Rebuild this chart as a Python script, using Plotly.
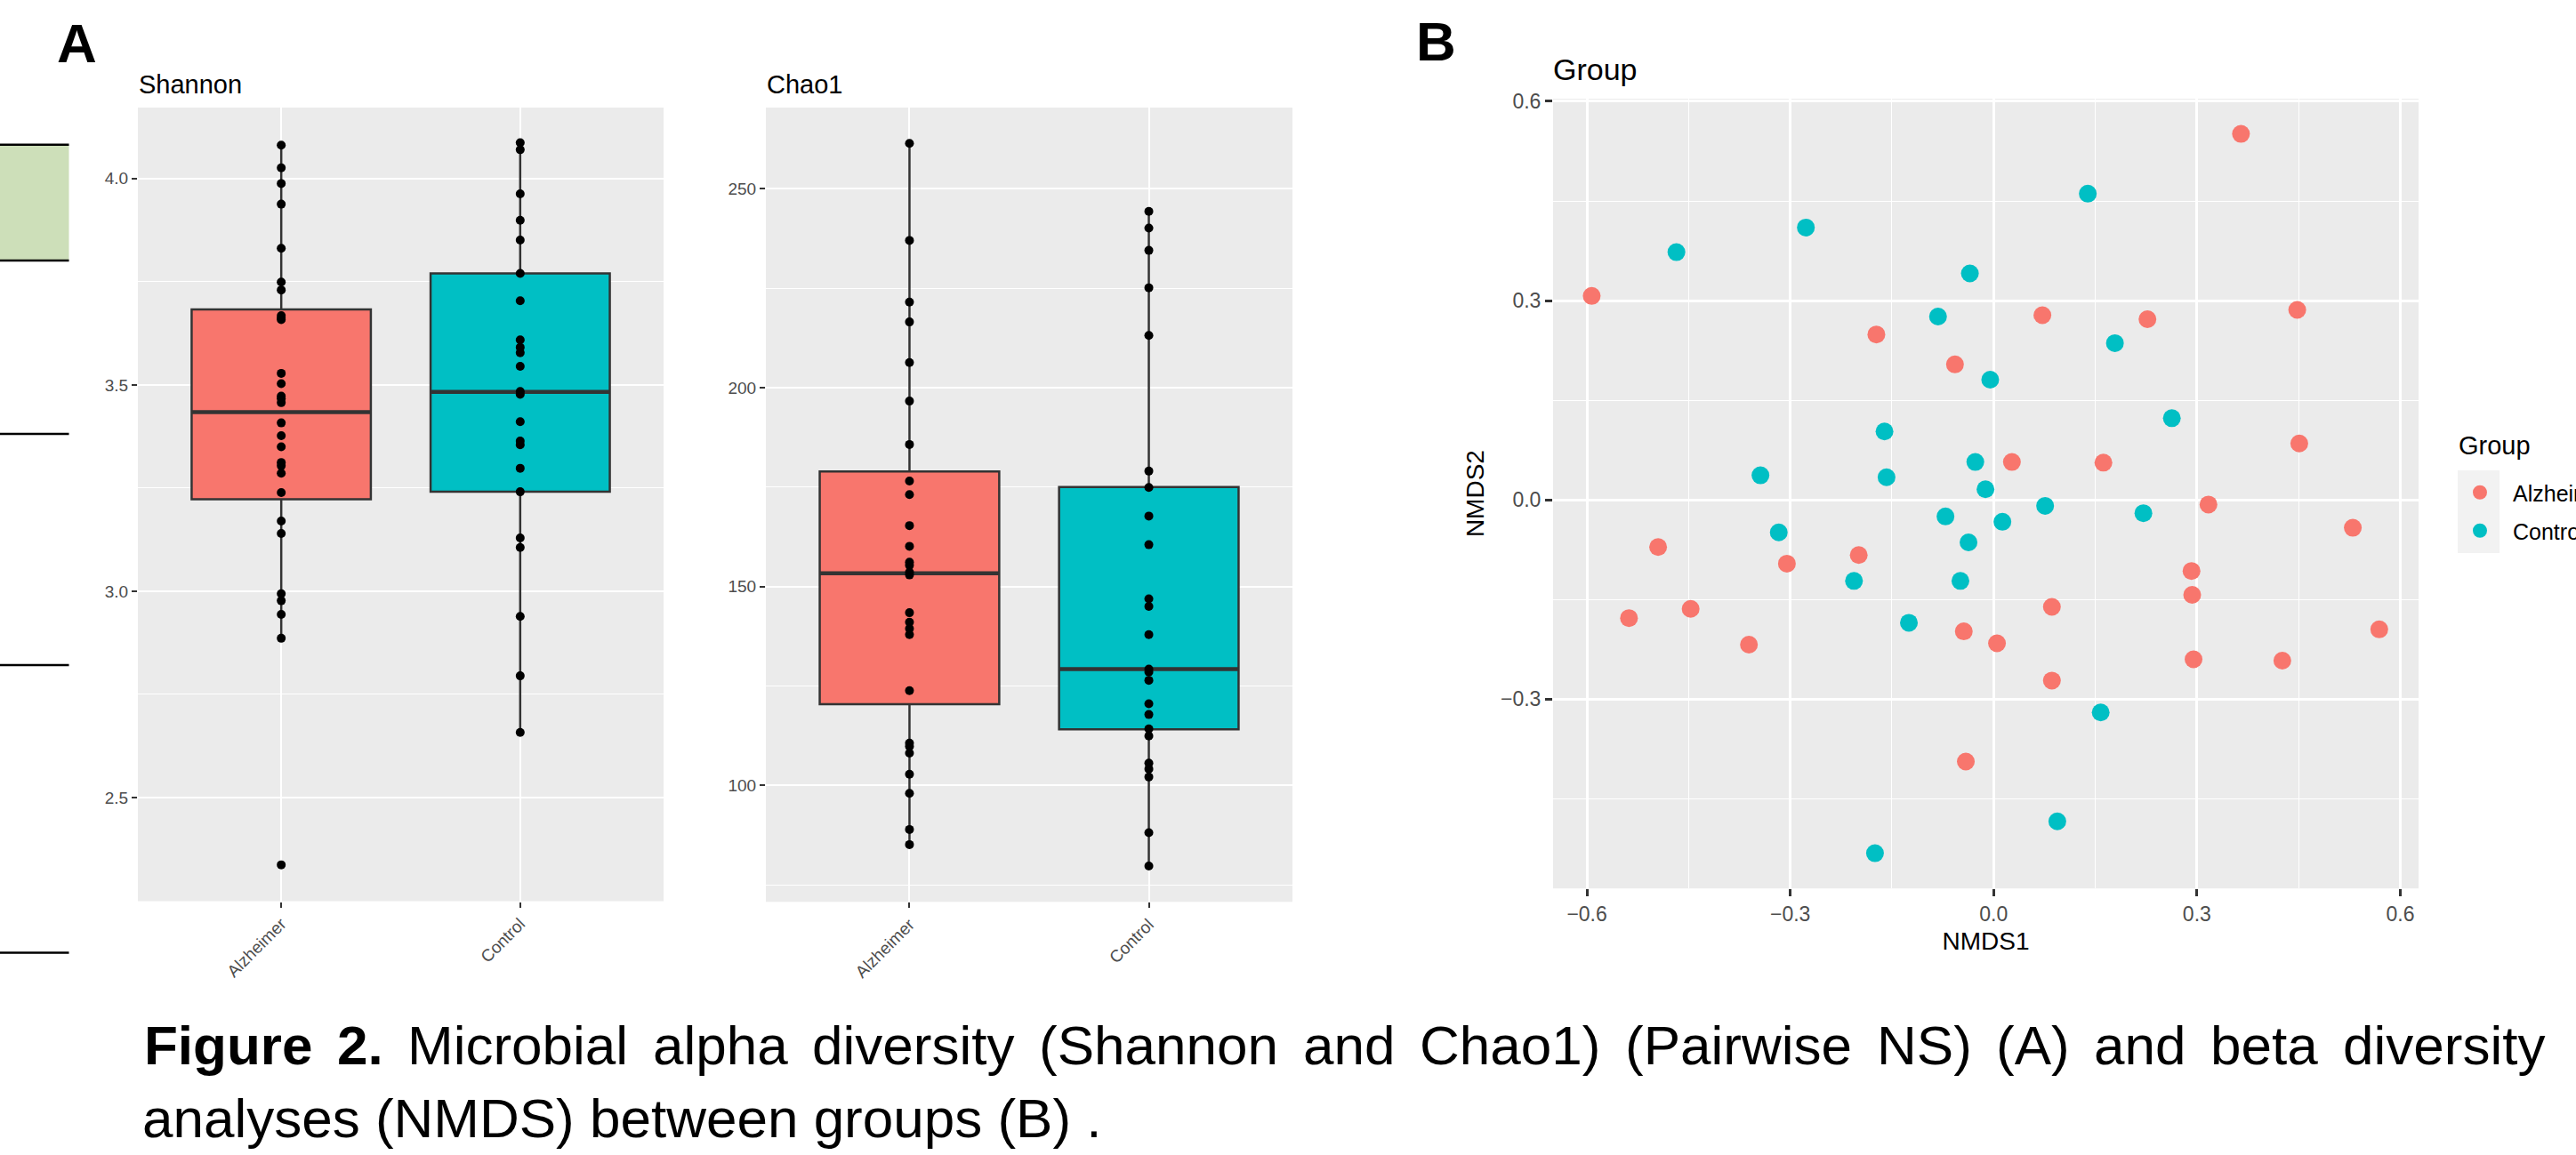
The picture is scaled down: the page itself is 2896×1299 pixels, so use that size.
import plotly.graph_objects as go

W, H = 2896, 1299

groups = ["Alzheimer", "Control"]
group_colors = ["#F8766D", "#00BFC4"]

# ---- Shannon (panel A, left) ----
shannon_alz = [4.081, 4.026, 3.988, 3.938, 3.831, 3.749, 3.730, 3.668, 3.662, 3.658,
               3.528, 3.503, 3.473, 3.467, 3.457, 3.408, 3.377, 3.350, 3.312, 3.304,
               3.286, 3.239, 3.170, 3.140, 2.994, 2.977, 2.944, 2.886, 2.337]
shannon_ctl = [4.087, 4.070, 3.963, 3.899, 3.851, 3.770, 3.704, 3.609, 3.591, 3.578,
               3.545, 3.484, 3.477, 3.411, 3.364, 3.355, 3.298, 3.241, 3.129, 3.106,
               2.939, 2.795, 2.658]
shannon_q1 = [3.223, 3.241]
shannon_med = [3.434, 3.483]
shannon_q3 = [3.683, 3.770]
shannon_lo = [2.886, 2.658]
shannon_hi = [4.081, 4.087]

# ---- Chao1 (panel A, right) ----
chao1_alz = [261.4, 237.0, 221.5, 216.5, 206.3, 196.6, 185.7, 176.5, 173.1, 165.3,
             160.1, 156.1, 155.3, 153.6, 152.9, 143.4, 141.0, 139.4, 137.9, 123.8,
             110.6, 109.8, 108.1, 102.8, 98.0, 88.9, 85.1]
chao1_ctl = [244.3, 240.1, 234.5, 225.1, 213.1, 179.0, 174.9, 167.7, 160.5, 146.9,
             145.0, 137.9, 129.2, 128.5, 126.4, 120.5, 117.8, 114.2, 112.4, 105.6,
             104.1, 102.1, 88.1, 79.7]
chao1_q1 = [120.4, 114.1]
chao1_med = [153.3, 129.2]
chao1_q3 = [178.9, 175.0]
chao1_lo = [85.1, 79.7]
chao1_hi = [261.4, 244.3]

# ---- NMDS (panel B) ----
nmds_alz_x = [-0.593, -0.173, -0.057, 0.072, 0.227, 0.365, 0.448, 0.027, 0.162, 0.451,
              0.317, 0.530, -0.495, -0.199, -0.305, -0.538, -0.447, -0.361, -0.044, 0.005,
              0.086, 0.086, 0.292, 0.293, 0.295, 0.426, 0.569, -0.041]
nmds_alz_y = [0.307, 0.249, 0.204, 0.278, 0.272, 0.551, 0.286, 0.057, 0.056, 0.085,
              -0.007, -0.042, -0.071, -0.083, -0.096, -0.178, -0.164, -0.218, -0.198, -0.216,
              -0.161, -0.272, -0.107, -0.143, -0.240, -0.242, -0.195, -0.394]
nmds_ctl_x = [-0.468, -0.277, 0.139, -0.035, -0.082, -0.005, 0.179, -0.161, 0.263, -0.344,
              -0.158, -0.027, -0.012, 0.076, 0.221, -0.317, -0.071, 0.013, -0.037, -0.206,
              -0.049, -0.125, 0.158, 0.094, -0.175]
nmds_ctl_y = [0.373, 0.410, 0.461, 0.341, 0.276, 0.181, 0.236, 0.103, 0.123, 0.037,
              0.034, 0.057, 0.016, -0.009, -0.020, -0.049, -0.025, -0.033, -0.064, -0.122,
              -0.122, -0.185, -0.320, -0.484, -0.532]

caption_bold_words = ["Figure", "2."]
caption_line1_words = ["Microbial", "alpha", "diversity", "(Shannon", "and", "Chao1)",
                       "(Pairwise", "NS)", "(A)", "and", "beta", "diversity"]
caption_line2 = "analyses (NMDS) between groups (B) ."


def px(x):
    return x / W


def py(y):
    return 1 - y / H


FONT = "Liberation Sans, Arial, Helvetica, sans-serif"
BOX_W = 0.75

fig = go.Figure()


def add_box_panel(xa, ya, q1, med, q3, lo, hi, pts):
    for i, g in enumerate(groups):
        fig.add_trace(go.Box(
            x=[i], q1=[q1[i]], median=[med[i]], q3=[q3[i]],
            lowerfence=[lo[i]], upperfence=[hi[i]],
            width=BOX_W, whiskerwidth=0, boxpoints=False,
            fillcolor=group_colors[i], line=dict(color="#333333", width=2.5),
            xaxis=xa, yaxis=ya, showlegend=False, hoverinfo="skip"))
        fig.add_trace(go.Scatter(
            x=[i - BOX_W / 2, i + BOX_W / 2], y=[med[i], med[i]], mode="lines",
            line=dict(color="#333333", width=4.5), xaxis=xa, yaxis=ya,
            showlegend=False, hoverinfo="skip"))
    for i, vals in enumerate(pts):
        fig.add_trace(go.Scatter(
            x=[i] * len(vals), y=vals, mode="markers",
            marker=dict(color="black", size=10, line=dict(width=0)),
            xaxis=xa, yaxis=ya, showlegend=False, hoverinfo="skip"))


add_box_panel("x", "y", shannon_q1, shannon_med, shannon_q3, shannon_lo, shannon_hi,
              [shannon_alz, shannon_ctl])
add_box_panel("x2", "y2", chao1_q1, chao1_med, chao1_q3, chao1_lo, chao1_hi,
              [chao1_alz, chao1_ctl])

for name, xs, ys, col in [("Alzheimer", nmds_alz_x, nmds_alz_y, group_colors[0]),
                          ("Control", nmds_ctl_x, nmds_ctl_y, group_colors[1])]:
    fig.add_trace(go.Scatter(
        x=xs, y=ys, mode="markers", name=name, legendgroup=name,
        marker=dict(color=col, size=20, line=dict(width=0)),
        xaxis="x3", yaxis="y3", showlegend=True))

tickfont_a = dict(family=FONT, size=19, color="#4D4D4D")
tickfont_b = dict(family=FONT, size=23, color="#4D4D4D")

cat_x = dict(range=[-0.6, 1.6], tickvals=[0, 1], ticktext=groups, tickangle=-45,
             showgrid=True, gridcolor="white", gridwidth=2.3, zeroline=False,
             ticks="outside", ticklen=6, tickwidth=2, tickcolor="#333333",
             tickfont=tickfont_a, showline=False)

fig.update_layout(
    width=W, height=H, margin=dict(l=0, r=0, t=0, b=0, autoexpand=False),
    paper_bgcolor="white", plot_bgcolor="#EBEBEB",
    font=dict(family=FONT),
    xaxis=dict(domain=[px(155), px(746)], anchor="y", **cat_x),
    yaxis=dict(domain=[py(1013.5), py(121)], anchor="x", range=[2.249, 4.172],
               tick0=0, dtick=0.5, tickformat=".1f",
               showgrid=True, gridcolor="white", gridwidth=2.3, zeroline=False,
               minor=dict(dtick=0.25, tick0=0, showgrid=True, gridcolor="white", gridwidth=1.1),
               ticks="outside", ticklen=6, tickwidth=2, tickcolor="#333333",
               tickfont=tickfont_a),
    xaxis2=dict(domain=[px(861), px(1453)], anchor="y2", **cat_x),
    yaxis2=dict(domain=[py(1014.3), py(121)], anchor="x2", range=[70.7, 270.4],
                tick0=0, dtick=50,
                showgrid=True, gridcolor="white", gridwidth=2.3, zeroline=False,
                minor=dict(dtick=25, tick0=0, showgrid=True, gridcolor="white", gridwidth=1.1),
                ticks="outside", ticklen=6, tickwidth=2, tickcolor="#333333",
                tickfont=tickfont_a),
    xaxis3=dict(domain=[px(1746), px(2719)], anchor="y3", range=[-0.650, 0.627],
                tick0=0, dtick=0.3, tickformat=".1f",
                showgrid=True, gridcolor="white", gridwidth=2.6, zeroline=False,
                minor=dict(dtick=0.15, tick0=0, showgrid=True, gridcolor="white", gridwidth=1.3),
                ticks="outside", ticklen=8, tickwidth=2.5, tickcolor="#333333",
                tickfont=tickfont_b,
                title=dict(text="NMDS1", font=dict(family=FONT, size=28, color="black"), standoff=8)),
    yaxis3=dict(domain=[py(999.2), py(111)], anchor="x3", range=[-0.585, 0.604],
                tick0=0, dtick=0.3, tickformat=".1f",
                showgrid=True, gridcolor="white", gridwidth=2.6, zeroline=False,
                minor=dict(dtick=0.15, tick0=0, showgrid=True, gridcolor="white", gridwidth=1.3),
                ticks="outside", ticklen=8, tickwidth=2.5, tickcolor="#333333",
                tickfont=tickfont_b,
                title=dict(text="NMDS2", font=dict(family=FONT, size=28, color="black"), standoff=10)),
    legend=dict(x=px(2751), y=py(575.5), xanchor="left", yanchor="middle",
                bgcolor="rgba(0,0,0,0)", font=dict(family=FONT, size=25, color="black"),
                tracegroupgap=7.5, itemwidth=64),
    showlegend=True,
)

# decorative remnants of the neighbouring table at the left edge
fig.add_shape(type="rect", xref="paper", yref="paper", x0=0, x1=px(77.5),
              y0=py(293), y1=py(162.7), fillcolor="#CDDFB9", line=dict(width=0), layer="below")
for yy in [162.7, 293, 488, 748, 1071.5]:
    fig.add_shape(type="line", xref="paper", yref="paper", x0=0, x1=px(77.5),
                  y0=py(yy), y1=py(yy), line=dict(color="black", width=2.5))

# legend key background
fig.add_shape(type="rect", xref="paper", yref="paper", x0=px(2763), x1=px(2810),
              y0=py(622), y1=py(529), fillcolor="#F2F2F2", line=dict(width=0), layer="below")

ann = []
ann.append(dict(text="<b>A</b>", x=px(62), y=py(49), xanchor="left", yanchor="middle",
                font=dict(family=FONT, size=62, color="black")))
ann.append(dict(text="<b>B</b>", x=px(1590), y=py(46), xanchor="left", yanchor="middle",
                font=dict(family=FONT, size=62, color="black")))
ann.append(dict(text="Shannon", x=px(154), y=py(95), xanchor="left", yanchor="middle",
                font=dict(family=FONT, size=29, color="black")))
ann.append(dict(text="Chao1", x=px(860), y=py(95), xanchor="left", yanchor="middle",
                font=dict(family=FONT, size=29, color="black")))
ann.append(dict(text="Group", x=px(1744), y=py(78), xanchor="left", yanchor="middle",
                font=dict(family=FONT, size=34, color="black")))
ann.append(dict(text="Group", x=px(2762), y=py(501), xanchor="left", yanchor="middle",
                font=dict(family=FONT, size=29, color="black")))

# caption: first line justified across the page width (Arial advance widths, em)
ARIAL = {"M": .833, "i": .222, "c": .5, "r": .333, "o": .556, "b": .556, "a": .556,
         "l": .222, "p": .556, "h": .556, "d": .556, "v": .5, "e": .556, "s": .5,
         "t": .278, "y": .5, "(": .333, ")": .333, "S": .667, "n": .556, "C": .722,
         "1": .556, "P": .667, "w": .722, "N": .722, "A": .667}
ARIAL_B = {"F": .611, "i": .278, "g": .611, "u": .611, "r": .389, "e": .556,
           "2": .556, ".": .278}
CAP_SIZE = 62
LINE_X0, LINE_X1 = 160, 2859
words = [(w, True) for w in caption_bold_words] + [(w, False) for w in caption_line1_words]
widths = [sum((ARIAL_B if b else ARIAL)[c] for c in w) * CAP_SIZE for w, b in words]
gap = (LINE_X1 - LINE_X0 - sum(widths)) / (len(words) - 1)
xcur = LINE_X0
for (w, b), wd in zip(words, widths):
    ann.append(dict(text=f"<b>{w}</b>" if b else w, x=px(xcur), y=py(1175),
                    xanchor="left", yanchor="middle",
                    font=dict(family=FONT, size=CAP_SIZE, color="black")))
    xcur += wd + gap
ann.append(dict(text=caption_line2, x=px(158), y=py(1257), xanchor="left", yanchor="middle",
                font=dict(family=FONT, size=CAP_SIZE, color="black")))
for a in ann:
    a.update(xref="paper", yref="paper", showarrow=False)
fig.update_layout(annotations=ann)

fig.write_html("out.html")
